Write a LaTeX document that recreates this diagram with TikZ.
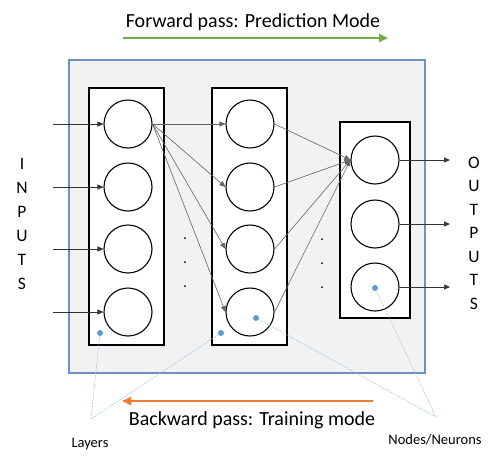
\documentclass[tikz,border=0pt]{standalone}
\usepackage{fontspec}
\setmainfont{Carlito}
\usetikzlibrary{arrows.meta, positioning}
\definecolor{panelgray}{RGB}{242, 242, 242}
\definecolor{panelblue}{RGB}{109, 146, 194}
\definecolor{passgreen}{RGB}{112, 173, 71}
\definecolor{passorange}{RGB}{237, 125, 49}
\definecolor{calloutblue}{RGB}{91, 155, 213}
\definecolor{calloutline}{RGB}{157, 195, 230}
\definecolor{linkgray}{RGB}{100, 100, 100}

\begin{document}
\begin{tikzpicture}[x=1pt, y=-1pt,
    layerbox/.style={draw, line width=1.2pt, fill=white, minimum width=75pt, inner sep=0pt},
    neuron/.style={circle, draw, line width=1.1pt, fill=white, minimum size=48pt, inner sep=0pt},
    link/.style={-{Triangle[length=6pt, width=5pt]}, linkgray, line width=0.6pt},
    io/.style={-{Triangle[length=6pt, width=5pt]}, black!80, line width=0.7pt},
    bluedot/.style={circle, fill=calloutblue, minimum size=6pt, inner sep=0pt},
    callout/.style={calloutline, line width=0.5pt, dash pattern=on 2pt off 1pt},
    smalldot/.style={circle, fill=black, minimum size=2pt, inner sep=0pt}]
\useasboundingbox (0,0) rectangle (500,461);
% Panel behind the network
\draw[panelblue, fill=panelgray, line width=1.2pt] (69,60) rectangle (425,373);
% Layer boxes
\node[layerbox, minimum height=257pt] (layerA) at (126.5,216.5) {};
\node[layerbox, minimum height=257pt] (layerB) at (249.5,216.5) {};
\node[layerbox, minimum width=70pt, minimum height=196pt] (layerC) at (375,220) {};
% Input layer neurons
\node[neuron] (a1) at (128,124) {};
\node[neuron] (a2) at (128,187) {};
\node[neuron] (a3) at (128,249) {};
\node[neuron] (a4) at (128,312) {};
% Hidden layer neurons
\node[neuron] (b1) at (250,124) {};
\node[neuron] (b2) at (250,187) {};
\node[neuron] (b3) at (250,249) {};
\node[neuron] (b4) at (250,312) {};
% Output layer neurons
\node[neuron] (c1) at (375,160) {};
\node[neuron] (c2) at (375,224) {};
\node[neuron] (c3) at (375,287) {};
% Links from first input neuron
\draw[link] (a1.east) -- (b1.west);
\draw[link] (a1.east) -- (b2.west);
\draw[link] (a1.east) -- (b3.west);
\draw[link] (a1.east) -- (b4.west);
% Links into first output neuron
\draw[link] (b1.east) -- (c1.west);
\draw[link] (b2.east) -- (c1.west);
\draw[link] (b3.east) -- (c1.west);
\draw[link] (b4.east) -- (c1.west);
% Ellipsis dots between layers
\node[smalldot] (dotsA1) at (185,238) {};
\node[smalldot] (dotsA2) at (185,262) {};
\node[smalldot] (dotsA3) at (185,286) {};
\node[smalldot] (dotsB1) at (322,239) {};
\node[smalldot] (dotsB2) at (322,263) {};
\node[smalldot] (dotsB3) at (322,287) {};
% Inputs
\coordinate (in1) at (53,124);
\coordinate (in2) at (53,187);
\coordinate (in3) at (53,249);
\coordinate (in4) at (53,312);
\draw[io] (in1) -- (a1.west);
\draw[io] (in2) -- (a2.west);
\draw[io] (in3) -- (a3.west);
\draw[io] (in4) -- (a4.west);
\node[font=\fontsize{17.5}{24}\selectfont, align=center] (inputs) at (22,224) {I\\N\\P\\U\\T\\S};
% Outputs
\coordinate (out1) at (450,160);
\coordinate (out2) at (450,224);
\coordinate (out3) at (450,287);
\draw[io] (c1.east) -- (out1);
\draw[io] (c2.east) -- (out2);
\draw[io] (c3.east) -- (out3);
\node[font=\fontsize{17.5}{23.5}\selectfont, align=center] (outputs) at (474,233) {O\\U\\T\\P\\U\\T\\S};
% Forward pass
\node[font=\fontsize{20}{24}\selectfont] (fwd) at (253,22) {Forward pass: Prediction Mode};
\coordinate (fwdL) at (123,38);
\coordinate (fwdR) at (388,38);
\draw[-{Triangle[length=9pt, width=8pt]}, passgreen, line width=1.8pt] (fwdL) -- (fwdR);
% Backward pass
\coordinate (bwdR) at (373,401);
\coordinate (bwdL) at (122,401);
\draw[-{Triangle[length=9pt, width=8pt]}, passorange, line width=1.8pt] (bwdR) -- (bwdL);
\node[font=\fontsize{20}{24}\selectfont] (bwd) at (252,420) {Backward pass: Training mode};
% Callouts
\node[bluedot] (layerDotA) at (100,333) {};
\node[bluedot] (layerDotB) at (221,333) {};
\node[bluedot] (nodeDotB) at (256,318) {};
\node[bluedot] (nodeDotC) at (375,288) {};
\coordinate (layersTip) at (91,419);
\coordinate (nodesTip) at (436,417);
\draw[callout] (layerDotA) -- (layersTip) -- (layerDotB);
\draw[callout] (nodeDotB) -- (nodesTip) -- (nodeDotC);
\node[font=\fontsize{14.5}{17}\selectfont] (layers) at (90,444) {Layers};
\node[font=\fontsize{14.5}{17}\selectfont] (neurons) at (435,440) {Nodes/Neurons};
\end{tikzpicture}
\end{document}
